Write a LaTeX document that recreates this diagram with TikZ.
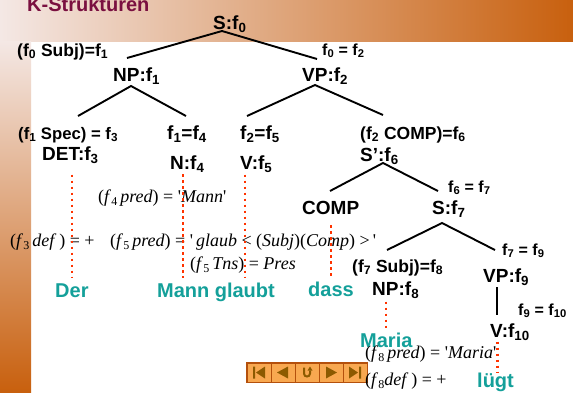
\documentclass[tikz,border=0pt]{standalone}
\usepackage{fontspec}
\setmainfont{Liberation Sans}
\newfontfamily\eqfont{Liberation Serif}
\usepackage{tikz}
\usetikzlibrary{positioning}
\definecolor{slideTitle}{HTML}{7A1040}
\definecolor{wordTeal}{HTML}{14A09A}
\definecolor{dotRed}{HTML}{FF3300}
\definecolor{bandLight}{HTML}{F4E8E5}
\definecolor{bandMid}{HTML}{E9CCC2}
\definecolor{sideMid}{HTML}{DDA48C}
\definecolor{bandDark}{HTML}{C8600E}
\definecolor{navFill}{HTML}{F8A850}
\definecolor{navEdge}{HTML}{B4500C}
\definecolor{navSign}{HTML}{8C5A00}
\newcommand{\sub}[1]{\textsubscript{#1}}
\newcommand{\eqsub}[1]{\raisebox{-3.5pt}{\fontsize{12}{12}\selectfont #1}}

\begin{document}
\begin{tikzpicture}[x=1pt, y=-1pt,
  cat/.style={font=\fontsize{19}{20}\selectfont\bfseries, inner sep=0pt, anchor=base west},
  ann/.style={font=\fontsize{16}{17}\selectfont\bfseries, inner sep=0pt, anchor=base west},
  bigann/.style={ann, font=\fontsize{17.5}{18}\selectfont\bfseries},
  eq/.style={font=\fontsize{18}{19}\selectfont\eqfont, inner sep=0pt, anchor=base west},
  word/.style={font=\fontsize{20}{21}\selectfont\bfseries, text=wordTeal, inner sep=0pt, anchor=base west},
  branch/.style={line width=1.9pt},
  trace/.style={dotRed, line width=2.2pt, dash pattern=on 2.5pt off 3.5pt},
  navbtn/.style={draw=navEdge, line width=1pt, fill=navFill, minimum width=24pt, minimum height=19pt, inner sep=0pt},
  navsign/.style={fill=navSign, draw=none}
]
\clip (0,0) rectangle (573,392);
\fill[white] (0,0) rectangle (573,392);
% slide background
\shade[left color=bandLight, middle color=bandMid, right color=bandDark] (0,0) rectangle (573,41);
\shade[top color=bandLight, middle color=sideMid, bottom color=bandDark] (0,41) rectangle (31,392);
\node[font=\fontsize{20}{21}\selectfont\bfseries, text=slideTitle, inner sep=0pt, anchor=base west] (title) at (27,11) {K-Strukturen};

% categories
\node[cat] (s0) at (213,29) {S:f\sub{0}};
\node[cat] (np1) at (113,81) {NP:f\sub{1}};
\node[cat] (vp2) at (302,81) {VP:f\sub{2}};
\node[cat] (det3) at (42,160) {DET:f\sub{3}};
\node[cat] (n4) at (170,169) {N:f\sub{4}};
\node[cat] (v5) at (240,169) {V:f\sub{5}};
\node[cat] (sb6) at (360,161) {S':f\sub{6}};
\node[cat] (comp) at (302,214) {COMP};
\node[cat] (s7) at (432,214) {S:f\sub{7}};
\node[cat] (np8) at (372,295) {NP:f\sub{8}};
\node[cat] (vp9) at (483,282) {VP:f\sub{9}};
\node[cat] (v10) at (490,337) {V:f\sub{10}};

% functional annotations
\node[bigann] (subj1) at (17,56) {(f\sub{0} Subj)=f\sub{1}};
\node[ann] (eq02) at (322,55) {f\sub{0} = f\sub{2}};
\node[ann, font=\fontsize{16.7}{17}\selectfont\bfseries] (spec3) at (18,139) {(f\sub{1} Spec) = f\sub{3}};
\node[cat] (eq14) at (167,139) {f\sub{1}=f\sub{4}};
\node[cat] (eq25) at (240,139) {f\sub{2}=f\sub{5}};
\node[bigann] (comp6) at (360,139) {(f\sub{2} COMP)=f\sub{6}};
\node[ann] (eq67) at (448,192) {f\sub{6} = f\sub{7}};
\node[ann] (eq79) at (502,255) {f\sub{7} = f\sub{9}};
\node[bigann] (subj8) at (352,272) {(f\sub{7} Subj)=f\sub{8}};
\node[ann] (eq910) at (518,315) {f\sub{9} = f\sub{10}};

% words
\node[word] (der) at (55,297) {Der};
\node[word] (mann) at (157,297) {Mann};
\node[word, right=5pt of mann.base east, anchor=base west] (glaubt) {glaubt};
\node[word] (dass) at (308,296) {dass};
\node[word] (maria) at (360,347) {Maria};
\node[word] (luegt) at (477,387) {lügt};

% f-descriptions
\node[eq] (predMann) at (98,202) {(\textit{f}\eqsub{4}\,\textit{pred}) = '\textit{Mann}'};
\node[eq] (def3) at (10,246) {(\textit{f}\eqsub{3}\,\textit{def}\,) = +};
\node[eq] (predGlaub) at (110,246) {(\textit{f}\eqsub{5}\,\textit{pred}) = '\,\textit{glaub} < (\textit{Subj})(\textit{Comp}) >\,'};
\node[eq] (tns5) at (190,269) {(\textit{f}\eqsub{5}\,\textit{Tns}) = \textit{Pres}};

% branches
\coordinate (s0-foot) at (222,31);
\coordinate (np1-head) at (127,58);
\coordinate (vp2-head) at (317,59);
\coordinate (np1-foot) at (131,86);
\coordinate (det3-head) at (78,116);
\coordinate (n4-head) at (186,116);
\coordinate (vp2-foot) at (315,85);
\coordinate (v5-head) at (247,116);
\coordinate (sb6-head) at (383,115);
\coordinate (sb6-foot) at (383,163);
\coordinate (comp-head) at (330,191);
\coordinate (s7-head) at (438,191);
\coordinate (s7-foot) at (442,223);
\coordinate (np8-head) at (387,250);
\coordinate (vp9-head) at (495,250);
\coordinate (vp9-foot) at (497,287);
\coordinate (v10-head) at (497,315);
\draw[branch] (np1-head) -- (s0-foot) -- (vp2-head);
\draw[branch] (det3-head) -- (np1-foot) -- (n4-head);
\draw[branch] (v5-head) -- (vp2-foot) -- (sb6-head);
\draw[branch] (comp-head) -- (sb6-foot) -- (s7-head);
\draw[branch] (np8-head) -- (s7-foot) -- (vp9-head);
\draw[branch] (vp9-foot) -- (v10-head);

% lexical traces
\draw[trace, shorten <=11pt, shorten >=5pt] (der.north |- det3.south) -- (der.north);
\draw[trace, shorten <=2pt, shorten >=5pt] (mann.north |- n4.south) -- (mann.north);
\draw[trace, shorten <=2pt, shorten >=4pt] (glaubt.north |- v5.south) -- (glaubt.north);
\draw[trace, shorten <=11pt, shorten >=4pt] (dass.north |- comp.south) -- (dass.north);
\draw[trace, shorten <=3pt, shorten >=1pt] (maria.north |- np8.south) -- (maria.north);
\draw[trace, shorten <=1pt, shorten >=0pt] ([xshift=2pt]luegt.north |- v10.south) -- ([xshift=2pt]luegt.north);

% navigation bar
\foreach \i in {0,...,4}
  \node[navbtn] (nav\i) at (259+24*\i,372.5) {};
\draw[navEdge, line width=1.2pt] (nav0.north west) rectangle (nav4.south east);
\fill[navsign, shift={(nav0.center)}] (-6,-6) rectangle (-4,6) (6,-6) -- (6,6) -- (-3,0) -- cycle;
\fill[navsign, shift={(nav1.center)}] (5,-6) -- (5,6) -- (-6,0) -- cycle;
\draw[navSign, line width=2pt, shift={(nav2.center)}] (-3,-5) -- (-3,1) .. controls (-3,5) and (3,5) .. (3,1) -- (3,-2);
\fill[navsign, shift={(nav2.center)}] (0.5,-2) -- (5.5,-2) -- (3,-6) -- cycle;
\fill[navsign, shift={(nav3.center)}] (-5,-6) -- (-5,6) -- (6,0) -- cycle;
\fill[navsign, shift={(nav4.center)}] (-6,-6) -- (-6,6) -- (3,0) -- cycle (4,-6) rectangle (6,6);

\node[eq] (predMaria) at (365,358) {(\textit{f}\eqsub{8}\,\textit{pred}) = '\textit{Maria}'};
\node[eq] (def8) at (365,385) {(\textit{f}\eqsub{8}\textit{def}\,) = +};
\end{tikzpicture}
\end{document}
